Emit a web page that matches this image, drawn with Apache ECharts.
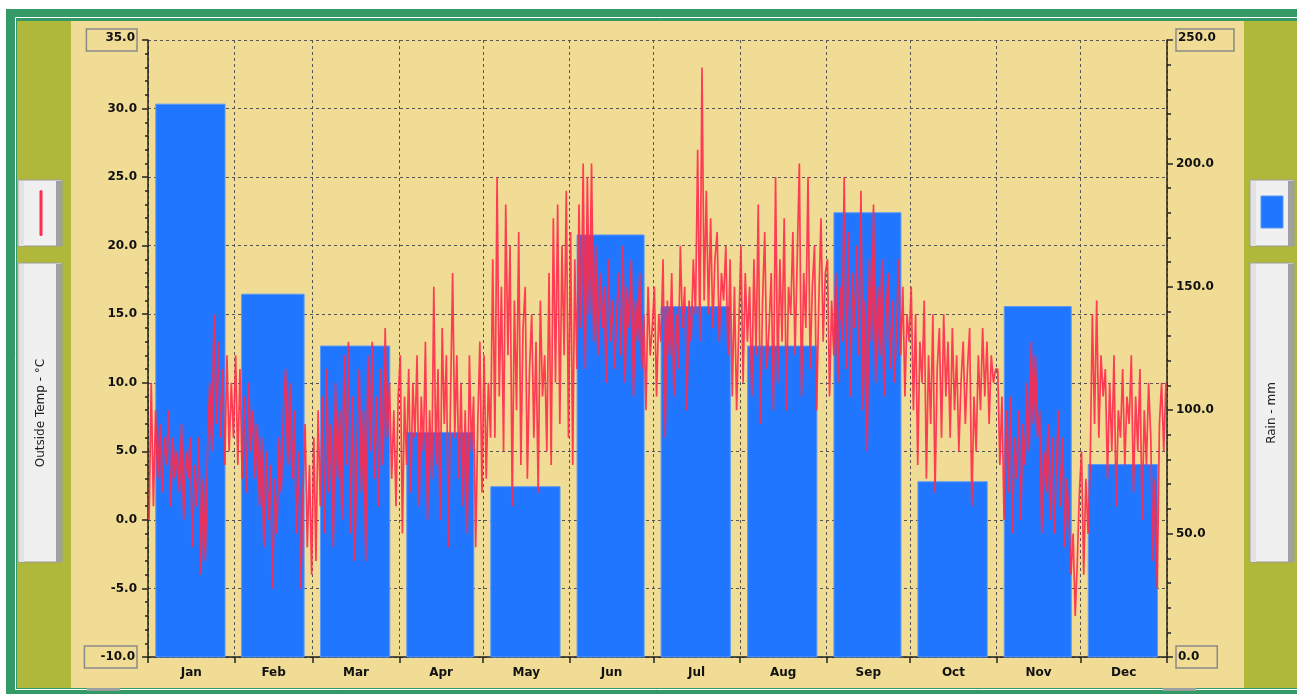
<!DOCTYPE html>
<html>
<head>
<meta charset="utf-8">
<script src="https://cdn.jsdelivr.net/npm/echarts@6/dist/echarts.min.js"></script>
<style>
html, body { margin: 0; padding: 0; background: #fff; }
#chart { width: 1297px; height: 694px; }
</style>
</head>
<body>
<div id="chart"></div>
<script>
var months = ['Jan', 'Feb', 'Mar', 'Apr', 'May', 'Jun', 'Jul', 'Aug', 'Sep', 'Oct', 'Nov', 'Dec'];
var monthDays = [31, 28, 31, 30, 31, 30, 31, 31, 30, 31, 30, 31];
// rain per month, mm (right axis)
var rain = [224, 147, 126, 91, 69, 171, 142, 126, 180, 71, 142, 78];
// outside temp samples, °C, evenly spread over each month
var tempJan = [0, 10, 1, 8, 3, 7, 2, 6, 4, 8, 1, 6, 3, 5, 2, 7, 0, 5, 3, 6, -2, 4, 1, 6, -4, 3, -3, 5, 10, 5, 15, 7, 13, 6, 11, 4, 12, 5, 10, 6];
var tempFeb = [12, 4, 11, 3, 9, 2, 10, 5, 8, 3, 7, 1, 6, -2, 5, 0, 4, -5, 3, -1, 6, 2, 8, 11, 4, 10, 3, 8, -1, 5, -5, 2, 7, -2, 4, -4];
var tempMar = [6, -3, 8, 1, 9, -1, 11, 2, 7, -2, 10, 3, 8, 0, 12, 4, 13, -1, 9, -3, 6, 11, 2, 8, -3, 12, 5, 13, 3, 9, 1, 11, 4, 14, 6, 10, 3, 8, 1, 9];
var tempApr = [12, -1, 9, 4, 11, 2, 10, 6, 12, 1, 9, 5, 13, 0, 8, 3, 17, 4, 11, 0, 14, 7, 12, -2, 9, 18, 6, 12, 3, 10, 1, 8, -1, 12, 5, 9, -2, 7, 13, 2];
var tempMay = [12, 3, 10, 6, 19, 6, 25, 9, 17, 5, 23, 12, 20, 1, 16, 8, 21, 4, 14, 17, 3, 11, 15, 6, 13, 2, 16, 9, 12, 5, 18, 4, 22, 10, 23, 7, 20, 12, 24, 6];
var tempJun = [21, 4, 19, 11, 23, 14, 26, 11, 25, 15, 26, 13, 20, 12, 18, 14, 17, 10, 19, 13, 16, 11, 15, 18, 12, 20, 10, 17, 14, 19, 9, 16, 13, 18, 11, 15, 8, 17, 12, 14];
var tempJul = [17, 9, 15, 13, 19, 6, 16, 12, 18, 9, 15, 11, 20, 14, 17, 8, 16, 13, 19, 15, 27, 13, 33, 16, 24, 15, 22, 14, 19, 21, 13, 18, 16, 20, 12, 19, 9, 17, 8, 14];
var tempAug = [20, 10, 18, 13, 17, 9, 19, 12, 23, 7, 16, 21, 11, 14, 18, 8, 25, 10, 19, 13, 22, 8, 17, 15, 21, 12, 19, 26, 9, 18, 14, 25, 11, 17, 20, 8, 16, 22, 13, 18];
var tempSep = [19, 9, 16, 12, 18, 10, 17, 13, 25, 11, 21, 9, 18, 14, 20, 12, 24, 8, 16, 5, 19, 13, 23, 10, 17, 12, 19, 9, 15, 18, 11, 16, 10, 14, 19, 12, 17, 9, 15, 13];
var tempOct = [17, 8, 15, 4, 13, 10, 16, 3, 12, 7, 15, 2, 11, 14, 6, 15, 9, 13, 6, 14, 8, 12, 5, 10, 13, 7, 11, 14, 1, 9, 5, 12, 8, 14, 9, 13, 7, 12, 10, 11];
var tempNov = [11, 4, 9, 0, 8, 2, 9, -1, 6, 3, 8, 0, 7, 4, 10, 5, 13, 7, 12, 6, 8, -1, 5, 2, 7, 0, 6, -1, 4, 8, 1, 6, -2, 3, 0, -4, -1, -7, -3, 2];
var tempDec = [5, -4, 3, -1, 4, 15, 7, 16, 6, 12, 9, 11, 3, 10, 5, 12, 1, 8, 6, 11, 4, 9, 7, 12, 2, 9, 5, 11, 0, 8, 4, 10, 6, -3, 3, -5, 7, 10, 5, 10];
var tempLeft = [-10, 35];
var rainRight = [0, 250];

var tempByMonth = [tempJan, tempFeb, tempMar, tempApr, tempMay, tempJun, tempJul, tempAug, tempSep, tempOct, tempNov, tempDec];

var monthStart = [], midMonth = [], barData = [], lineData = [];
var acc = 0;
monthDays.forEach(function (d, m) {
	monthStart.push(acc);
	midMonth.push(acc + d / 2);
	barData.push([acc, acc + d, rain[m]]);
	tempByMonth[m].forEach(function (t, i, arr) {
		lineData.push([acc + (i + 0.5) * d / arr.length, t]);
	});
	acc += d;
});
monthStart.push(acc);

var labelFont = { fontFamily: 'DejaVu Sans', fontWeight: 'bold', fontSize: 12, color: '#111' };
var gridLine = { show: true, lineStyle: { color: '#555', type: [3, 3], width: 1 } };

function legendBox(x, y, h) {
	return [
		{ type: 'rect', shape: { x: x, y: y, width: 44, height: h }, style: { fill: '#f0f0f0', stroke: '#9a9a9a', lineWidth: 1 }, z: 5 },
		{ type: 'rect', shape: { x: x + 38, y: y + 1, width: 6, height: h - 1 }, style: { fill: '#a0a0a0' }, z: 6 },
		{ type: 'rect', shape: { x: x + 1, y: y + 1, width: 5, height: h - 1 }, style: { fill: '#e2e2e2' }, z: 6 }
	];
}

var chart = echarts.init(document.getElementById('chart'));
chart.setOption({
	backgroundColor: '#ffffff',
	animation: false,
	graphic: [
		{ type: 'rect', shape: { x: 6, y: 9, width: 1291, height: 685 }, style: { fill: '#339966' }, z: -20 },
		{ type: 'rect', shape: { x: 15.5, y: 17.5, width: 1290, height: 672 }, style: { fill: 'none', stroke: '#ffffff', lineWidth: 1 }, z: -19 },
		{ type: 'rect', shape: { x: 17, y: 21, width: 1280, height: 667 }, style: { fill: '#afb83b' }, z: -18 },
		{ type: 'rect', shape: { x: 71, y: 21, width: 1173, height: 667 }, style: { fill: '#f0dc94' }, z: -17 },
		{ type: 'rect', shape: { x: 87, y: 688, width: 33, height: 3 }, style: { fill: '#9aa0a0' }, z: -16 },
		{ type: 'rect', shape: { x: 1163, y: 688, width: 33, height: 3 }, style: { fill: '#9aa0a0' }, z: -16 }
	].concat(legendBox(18, 180, 66), legendBox(18, 263, 299), legendBox(1250, 180, 66), legendBox(1250, 263, 299), [
		{ type: 'rect', shape: { x: 39.5, y: 190, width: 3, height: 46, r: 1.5 }, style: { fill: '#ff2a4d' }, z: 7 },
		{ type: 'rect', shape: { x: 1261, y: 196, width: 22, height: 32 }, style: { fill: '#2176ff', stroke: '#5b98f5', lineWidth: 1 }, z: 7 },
		{ type: 'text', x: 41, y: 413, rotation: Math.PI / 2, style: { text: 'Outside Temp - °C', fontFamily: 'DejaVu Sans', fontSize: 12, fill: '#222', align: 'center', verticalAlign: 'middle' }, z: 7 },
		{ type: 'text', x: 1272, y: 413, rotation: Math.PI / 2, style: { text: 'Rain - mm', fontFamily: 'DejaVu Sans', fontSize: 12, fill: '#222', align: 'center', verticalAlign: 'middle' }, z: 7 }
	]),
	grid: { left: 148, right: 130, top: 40, bottom: 37 },
	xAxis: {
		type: 'value',
		min: 0,
		max: acc,
		axisLine: { show: true, onZero: false, lineStyle: { color: '#222', width: 1.5 } },
		axisTick: { show: true, length: 6, customValues: monthStart, lineStyle: { color: '#222', width: 1.5 } },
		splitLine: gridLine,
		axisLabel: Object.assign({
			margin: 10,
			customValues: midMonth,
			formatter: function (v) {
				for (var i = 0; i < 12; i++) {
					if (v < monthStart[i + 1]) return months[i];
				}
				return '';
			}
		}, labelFont)
	},
	yAxis: [{
		type: 'value',
		min: tempLeft[0],
		max: tempLeft[1],
		interval: 5,
		axisLine: { show: true, lineStyle: { color: '#222', width: 1.5 } },
		axisTick: { show: true, length: 6, lineStyle: { color: '#222', width: 1.5 } },
		minorTick: { show: true, splitNumber: 5, length: 3, lineStyle: { color: '#222', width: 1.5 } },
		splitLine: gridLine,
		axisLabel: Object.assign({
			margin: 11,
			showMinLabel: true,
			showMaxLabel: true,
			formatter: function (v) {
				var s = v.toFixed(1);
				if (v === tempLeft[1]) return '{top|' + s + '}';
				if (v === tempLeft[0]) return '{bot|' + s + '}';
				return s;
			},
			rich: {
				top: Object.assign({ borderColor: '#8a8a8a', borderWidth: 1.5, padding: [3, 2, 7, 19], lineHeight: 14 }, labelFont),
				bot: Object.assign({ borderColor: '#8a8a8a', borderWidth: 1.5, padding: [5, 2, 5, 16], lineHeight: 14 }, labelFont)
			}
		}, labelFont)
	}, {
		type: 'value',
		min: rainRight[0],
		max: rainRight[1],
		interval: 50,
		position: 'right',
		axisLine: { show: true, lineStyle: { color: '#222', width: 1.5 } },
		axisTick: { show: true, length: 6, lineStyle: { color: '#222', width: 1.5 } },
		minorTick: { show: true, splitNumber: 5, length: 4, lineStyle: { color: '#222', width: 1.5 } },
		splitLine: { show: false },
		axisLabel: Object.assign({
			margin: 9,
			showMinLabel: true,
			showMaxLabel: true,
			formatter: function (v) {
				var s = v.toFixed(1);
				if (v === rainRight[1]) return '{top|' + s + '}';
				if (v === rainRight[0]) return '{bot|' + s + '}';
				return s;
			},
			rich: {
				top: Object.assign({ borderColor: '#8a8a8a', borderWidth: 1.5, padding: [3, 18, 7, 2], lineHeight: 14 }, labelFont),
				bot: Object.assign({ borderColor: '#8a8a8a', borderWidth: 1.5, padding: [5, 18, 5, 2], lineHeight: 14 }, labelFont)
			}
		}, labelFont)
	}],
	series: [{
		name: 'Rain - mm',
		type: 'custom',
		yAxisIndex: 1,
		z: 3,
		data: barData,
		renderItem: function (params, api) {
			var s = api.value(0), e = api.value(1), w = e - s;
			var p0 = api.coord([s + w * 0.09, api.value(2)]);
			var p1 = api.coord([e - w * 0.11, 0]);
			return {
				type: 'rect',
				shape: { x: p0[0], y: p0[1], width: p1[0] - p0[0], height: p1[1] - p0[1] },
				style: { fill: '#2176ff', stroke: '#5b98f5', lineWidth: 1 }
			};
		}
	}, {
		name: 'Outside Temp - °C',
		type: 'line',
		yAxisIndex: 0,
		z: 4,
		showSymbol: false,
		data: lineData,
		lineStyle: { color: '#ff2a4d', width: 1.7, opacity: 0.9 }
	}]
});
</script>
</body>
</html>
